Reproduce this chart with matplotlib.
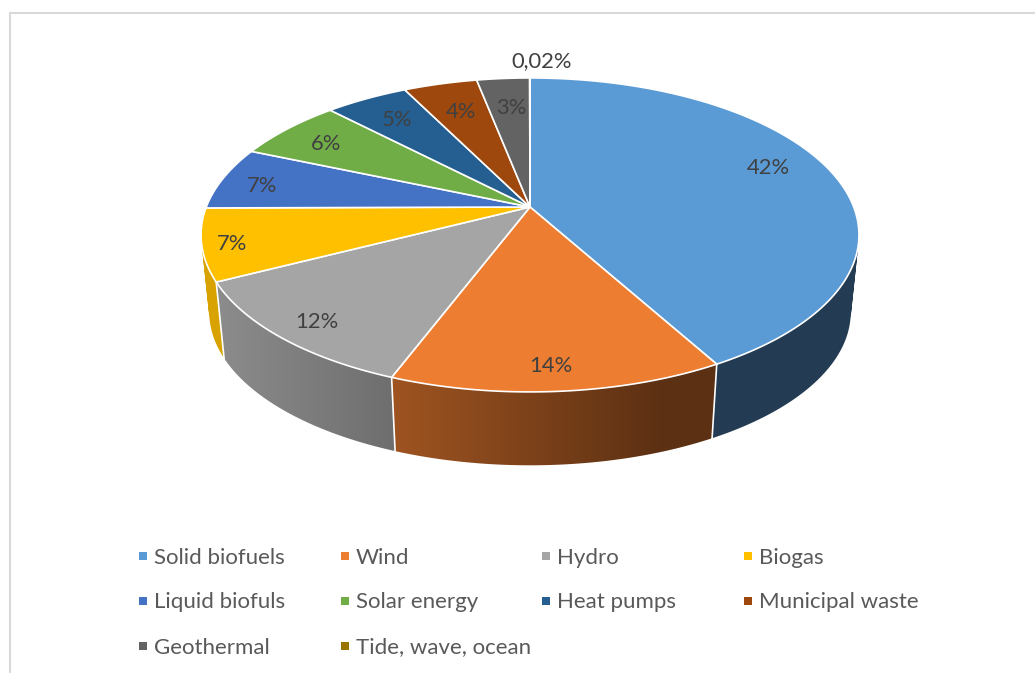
import numpy as np
import matplotlib
matplotlib.use("Agg")
from matplotlib import pyplot as plt
from matplotlib.path import Path
from matplotlib.patches import PathPatch

categories = ['Solid biofuels', 'Wind', 'Hydro', 'Biogas', 'Liquid biofuls',
              'Solar energy', 'Heat pumps', 'Municipal waste', 'Geothermal', 'Tide, wave, ocean']
values = [41.9, 13.9, 11.7, 7.4, 6.5, 6.35, 4.85, 4.3, 3.08, 0.02]
value_labels = ['42%', '14%', '12%', '7%', '7%', '6%', '5%', '4%', '3%', '0,02%']
colors = ['#5B9BD5', '#ED7D31', '#A5A5A5', '#FFC000', '#4472C4',
          '#70AD47', '#255E91', '#9E480E', '#636363', '#997300']

plt.rcParams['font.family'] = ['Lato', 'DejaVu Sans']

W, H = 1035, 673
fig = plt.figure(figsize=(W / 100, H / 100), dpi=100)
ax = fig.add_axes([0, 0, 1, 1])
ax.axis('off')

# chart frame, runs off the picture to the right and at the bottom
ax.plot([10, 10, W], [H, 13, 13], color='#D9D9D9', lw=1.5, solid_joinstyle='miter')

CX, CY = 530, 207
A, B, M = 323.7, 152, 0.178   # perspective of the tilted disc
SHRINK, LOWER_Y = 0.975, 285  # bottom face


def project(ang, r=1.0, scale=1.0, y0=CY):
    # ang is clockwise from 12 o'clock, in radians
    u = r * np.sin(ang)
    v = -r * np.cos(ang)
    w = 1 - M * v
    return CX + scale * A * u / w, y0 + scale * B * v / w


def arc(i):
    n = max(int((edges[i + 1] - edges[i]) * 120), 2)
    return np.linspace(edges[i], edges[i + 1], n + 1)


def wall_path(i):
    # one quad per arc step, all wound the same way so they add up when filled
    ang = arc(i)
    xt, yt = project(ang)
    xb, yb = project(ang, scale=SHRINK, y0=LOWER_Y)
    quads = []
    for j in range(len(ang) - 1):
        q = np.array([[xt[j], yt[j]], [xt[j + 1], yt[j + 1]], [xb[j + 1], yb[j + 1]], [xb[j], yb[j]]])
        area = np.sum(q[:, 0] * np.roll(q[:, 1], -1) - np.roll(q[:, 0], -1) * q[:, 1])
        if area < 0:
            q = q[::-1]
        quads.append(Path(np.vstack([q, q[:1]]), closed=True))
    return Path.make_compound_path(*quads)


edges = np.cumsum([0] + values) / sum(values) * 2 * np.pi
xcols = np.arange(W) + 0.5
shade = np.interp(xcols, [216, 393, 660], [0.85, 0.67, 0.39])

# side walls: a horizontal gradient clipped to each slice, back slices first
order = np.argsort([-np.cos((edges[i] + edges[i + 1]) / 2) for i in range(len(values))])
for i in order:
    base = np.array(matplotlib.colors.to_rgb(colors[i]))
    col = shade if i != 3 else np.full(W, 0.85)
    grad = base[None, None, :] * col[None, :, None]
    im = ax.imshow(grad, extent=(0, W, H, 0), aspect='auto', interpolation='bilinear', zorder=2)
    clip = PathPatch(wall_path(i), facecolor='none', edgecolor='none', transform=ax.transData)
    ax.add_patch(clip)
    im.set_clip_path(clip)

ax.set_xlim(0, W)
ax.set_ylim(H, 0)

# white seams on the visible side walls
for e in edges[1:4]:
    xt, yt = project(e)
    xb, yb = project(e, scale=SHRINK, y0=LOWER_Y)
    ax.plot([xt, xb], [yt, yb], color='white', lw=1.2, zorder=3)

# top face
for i in range(len(values)):
    x, y = project(arc(i))
    ax.fill(np.r_[CX, x], np.r_[CY, y], facecolor=colors[i], edgecolor='white', lw=1.2,
            joinstyle='round', zorder=4)

label_xy = [(768, 167), (551, 366), (317, 321), (232, 243), (262, 185),
            (326, 143), (397, 120), (461, 111), (511, 107), (542, 61)]
for t, (x, y) in zip(value_labels, label_xy):
    ax.text(x, y + 0.5, t, ha='center', va='center', fontsize=15.8, color='#404040', zorder=5)

# legend, 4 evenly spaced columns
for i, name in enumerate(categories):
    row, col = divmod(i, 4)
    lx = 143 + col * 201.7
    ly = 556 + row * 45
    ax.plot([lx], [ly], marker='s', ms=5.8, mew=0, color=colors[i], ls='none')
    ax.text(lx + 11, ly + 1.5, name, ha='left', va='center', fontsize=16, color='#595959')

fig.savefig('out.png', dpi=100)
